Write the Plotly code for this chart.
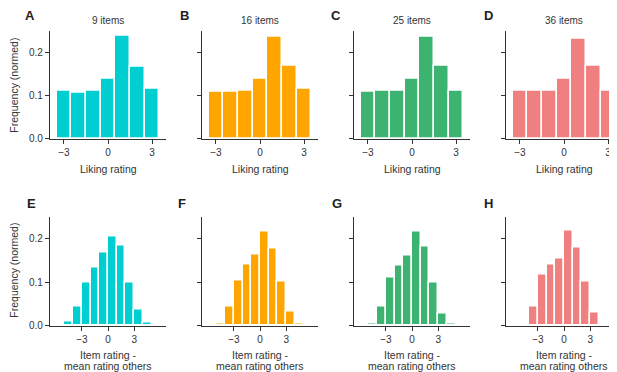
import plotly.graph_objects as go
from plotly.subplots import make_subplots

# ---- data ----
rating_bins = [-3, -2, -1, 0, 1, 2, 3]
freq_9 = [0.111, 0.107, 0.112, 0.138, 0.238, 0.166, 0.115]
freq_16 = [0.108, 0.108, 0.111, 0.140, 0.236, 0.169, 0.115]
freq_25 = [0.109, 0.111, 0.111, 0.139, 0.236, 0.169, 0.111]
freq_36 = [0.112, 0.112, 0.112, 0.138, 0.231, 0.169, 0.112]

diff_bins = [-4.5, -3.5, -2.5, -1.5, -0.5, 0.5, 1.5, 2.5, 3.5, 4.5]
diff_9 = [0.010, 0.045, 0.100, 0.133, 0.167, 0.204, 0.183, 0.100, 0.037, 0.008]
diff_16 = [0.006, 0.044, 0.103, 0.139, 0.164, 0.216, 0.177, 0.102, 0.032, 0.005]
diff_25 = [0.005, 0.043, 0.111, 0.138, 0.161, 0.215, 0.182, 0.098, 0.028, 0.005]
diff_36 = [0.003, 0.045, 0.117, 0.139, 0.155, 0.217, 0.180, 0.101, 0.030, 0.003]

titles = ["9 items", "16 items", "25 items", "36 items"]
letters_top = ["A", "B", "C", "D"]
letters_bottom = ["E", "F", "G", "H"]
colors = ["#00CED1", "#FFA500", "#3CB371", "#F08080"]
x_ticks = [-3, 0, 3]
y_ticks = [0.0, 0.1, 0.2]

top_series = [freq_9, freq_16, freq_25, freq_36]
bottom_series = [diff_9, diff_16, diff_25, diff_36]

W, H = 617, 372
FONT = "Liberation Sans, Arial, sans-serif"
TXT = "#333333"
AX = "#333333"

fig = make_subplots(rows=2, cols=4)

x_left = [42, 194, 346, 498]
pw = 116
top_rows = (23, 133)
bot_rows = (212, 323)

for c in range(4):
    fig.add_trace(go.Bar(x=rating_bins, y=top_series[c], width=1,
                         marker=dict(color=colors[c], line=dict(color="white", width=1.5)),
                         showlegend=False), row=1, col=c + 1)
    fig.add_trace(go.Bar(x=diff_bins, y=bottom_series[c], width=1,
                         marker=dict(color=colors[c], line=dict(color="white", width=1.5)),
                         showlegend=False), row=2, col=c + 1)

axis_common = dict(showline=True, linecolor=AX, linewidth=1.3, ticks="outside",
                   ticklen=4, tickwidth=1.3, tickcolor=AX, showgrid=False, zeroline=False,
                   tickfont=dict(size=10, color=TXT, family=FONT), mirror=False)

for r in (1, 2):
    for c in range(4):
        idx = (r - 1) * 4 + c + 1
        xa = "xaxis" if idx == 1 else f"xaxis{idx}"
        ya = "yaxis" if idx == 1 else f"yaxis{idx}"
        x0 = x_left[c] / W
        x1 = (x_left[c] + pw) / W
        rows = top_rows if r == 1 else bot_rows
        y0 = 1 - rows[1] / H
        y1 = 1 - rows[0] / H
        xr = [-3.95, 3.95] if r == 1 else [-6.65, 6.65]
        fig.layout[xa].update(domain=[x0, x1], range=xr, tickvals=x_ticks, **axis_common)
        fig.layout[ya].update(domain=[y0, y1], range=[0, 0.25], tickvals=y_ticks,
                              tickformat=".1f", showticklabels=(c == 0), **axis_common)

annotations = []

def ann(text, x, y, size=10, bold=False, angle=0):
    annotations.append(dict(text=f"<b>{text}</b>" if bold else text, x=x / W, y=1 - y / H,
                            xref="paper", yref="paper", showarrow=False, textangle=angle,
                            xanchor="center", yanchor="middle",
                            font=dict(size=size, color=TXT if not bold else "#222222", family=FONT)))

letter_top_x = [22, 176, 328, 480]
letter_bot_x = [23.5, 174, 329, 480]
for c in range(4):
    cx = x_left[c] + pw / 2
    ann(titles[c], cx, 12.5, size=10)
    ann(letters_top[c], letter_top_x[c], 7.5, size=13, bold=True)
    ann(letters_bottom[c], letter_bot_x[c], 198.5, size=13, bold=True)
    ann("Liking rating", cx, 164, size=10.5)
    ann("Item rating -", cx, 352.5, size=10.5)
    ann("mean rating others", cx, 363.5, size=10.5)

ann("Frequency (normed)", 6, 79, size=10.5, angle=-90)
ann("Frequency (normed)", 6, 267, size=10.5, angle=-90)

fig.update_layout(width=W, height=H, margin=dict(l=0, r=0, t=0, b=0),
                  plot_bgcolor="white", paper_bgcolor="white", bargap=0,
                  annotations=annotations, font=dict(family=FONT, color=TXT))

fig.write_html("out.html")
